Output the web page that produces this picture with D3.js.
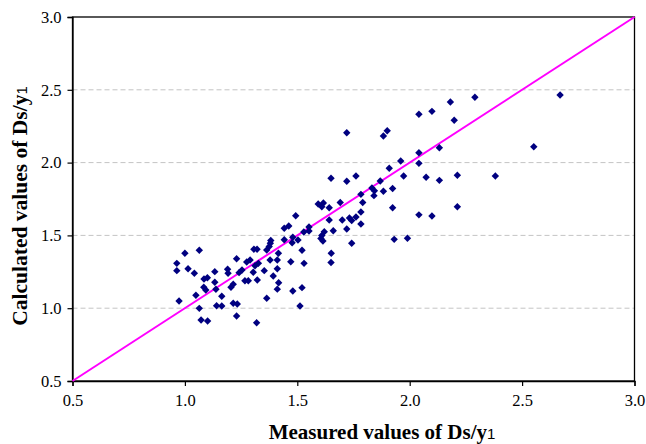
<!DOCTYPE html>
<html>
<head>
<meta charset="utf-8">
<script src="https://cdn.jsdelivr.net/npm/d3@7"></script>
<style>
  html, body { margin: 0; padding: 0; background: #fff; }
  svg { display: block; }
</style>
</head>
<body>
<svg id="chart" width="646" height="444"></svg>
<script>
// Measured values of Ds/y1 (x) and calculated values (y)
const measured = [
  0.964, 0.964, 0.974, 1.000, 1.014, 1.042, 1.049, 1.064, 1.064, 1.072,
  1.101, 1.085, 1.100, 1.084, 1.093, 1.133, 1.133, 1.138, 1.141, 1.164,
  1.164, 1.190, 1.192, 1.230, 1.215, 1.205, 1.215, 1.233, 1.230, 1.241,
  1.254, 1.267, 1.282, 1.275, 1.290, 1.304, 1.312, 1.321, 1.307, 1.327,
  1.322, 1.353, 1.319, 1.364, 1.364, 1.375, 1.382, 1.380, 1.379, 1.393,
  1.411, 1.411, 1.416, 1.417, 1.411, 1.442, 1.462, 1.442, 1.480, 1.477,
  1.503, 1.493, 1.521, 1.529, 1.552, 1.552, 1.471, 1.530, 1.480, 1.521,
  1.512, 1.593, 1.616, 1.609, 1.642, 1.642, 1.691, 1.700, 1.732, 1.742,
  1.761, 1.783, 1.783, 1.720, 1.660, 1.620, 1.609, 1.605, 1.614, 1.742,
  1.651, 1.650, 1.650, 1.720, 1.761, 1.783, 1.791, 1.832, 1.843, 1.841,
  1.869, 1.883, 1.909, 1.924, 1.924, 1.960, 1.973, 1.931, 1.990, 1.720,
  1.883, 1.900, 2.041, 2.041, 2.073, 2.041, 2.099, 2.041, 2.099, 2.181,
  2.290, 2.198, 2.132, 2.132, 2.212, 2.381, 2.212, 2.552, 2.669
];
const calculated = [
  1.308, 1.258, 1.049, 1.377, 1.271, 1.240, 1.089, 1.398, 0.999, 0.919,
  0.912, 1.201, 1.209, 1.144, 1.125, 1.251, 1.178, 1.130, 1.017, 1.015,
  1.082, 1.267, 1.240, 1.340, 1.164, 1.144, 1.034, 1.029, 0.946, 1.244,
  1.262, 1.189, 1.189, 1.317, 1.331, 1.247, 1.292, 1.405, 1.405, 1.308,
  1.194, 1.258, 0.900, 1.068, 1.400, 1.424, 1.465, 1.446, 1.331, 1.221,
  1.331, 1.271, 1.377, 1.175, 1.131, 1.549, 1.565, 1.470, 1.487, 1.450,
  1.468, 1.635, 1.398, 1.523, 1.558, 1.530, 1.319, 1.308, 1.118, 1.141,
  1.015, 1.716, 1.723, 1.697, 1.690, 1.606, 1.726, 1.606, 1.620, 1.602,
  1.626, 1.661, 1.578, 1.544, 1.532, 1.525, 1.499, 1.479, 1.462, 1.446,
  1.377, 1.314, 1.892, 1.872, 1.908, 1.782, 1.726, 1.826, 1.807, 1.773,
  1.874, 1.803, 1.961, 1.822, 1.690, 2.011, 1.908, 1.473, 1.480, 2.205,
  2.183, 2.219, 2.068, 1.995, 1.899, 1.641, 1.633, 2.332, 2.352, 2.416,
  2.449, 2.291, 2.102, 1.878, 1.913, 1.908, 1.697, 2.109, 2.464
];
const xTicks = [0.5, 1.0, 1.5, 2.0, 2.5, 3.0];
const yTicks = [0.5, 1.0, 1.5, 2.0, 2.5, 3.0];
const gridValues = [1.0, 1.5, 2.0, 2.5];
const lineEnds = [0.5, 3.0];
const xTitle = "Measured values of Ds/y";
const yTitle = "Calculated values of Ds/y";
const subscript = "1";

(function () {
const points = measured.map((m, i) => ({ x: m, y: calculated[i] }));

const svg = d3.select("#chart");
const pLeft = 72.5, pRight = 634.5, pTop = 17, pBottom = 381;

const x = d3.scaleLinear().domain([0.5, 3.0]).range([pLeft, pRight]);
const y = d3.scaleLinear().domain([0.5, 3.0]).range([pBottom, pTop]);

// gridlines
svg.append("g")
  .selectAll("line")
  .data(gridValues)
  .join("line")
  .attr("x1", pLeft).attr("x2", pRight)
  .attr("y1", d => y(d)).attr("y2", d => y(d))
  .attr("stroke", "#c4c4c4")
  .attr("stroke-width", 1)
  .attr("stroke-dasharray", "5,3");

// plot border
svg.append("rect")
  .attr("x", pLeft).attr("y", pTop)
  .attr("width", pRight - pLeft).attr("height", pBottom - pTop)
  .attr("fill", "none")
  .attr("stroke", "#000")
  .attr("stroke-width", 1.3);

// axes
const fmt = d3.format(".1f");
const xAxis = svg.append("g")
  .attr("transform", `translate(0,${pBottom})`)
  .call(d3.axisBottom(x).tickValues(xTicks).tickFormat(fmt).tickSize(5).tickPadding(8));
const yAxis = svg.append("g")
  .attr("transform", `translate(${pLeft},0)`)
  .call(d3.axisLeft(y).tickValues(yTicks).tickFormat(fmt).tickSize(5).tickPadding(6));

[xAxis, yAxis].forEach(g => {
  g.select(".domain").attr("stroke", "#000").attr("stroke-width", 1.3);
  g.selectAll(".tick line").attr("stroke", "#000").attr("stroke-width", 1.2);
  g.selectAll(".tick text")
    .attr("font-family", "'Liberation Serif', 'Times New Roman', serif")
    .attr("font-size", 16.5)
    .attr("fill", "#000");
});

// 1:1 line
svg.append("line")
  .attr("x1", x(lineEnds[0])).attr("y1", y(lineEnds[0]))
  .attr("x2", x(lineEnds[1])).attr("y2", y(lineEnds[1]))
  .attr("stroke", "#ff00ff")
  .attr("stroke-width", 2);

// points (diamonds)
const r = 3.7;
svg.append("g")
  .selectAll("path")
  .data(points)
  .join("path")
  .attr("d", `M0,${-r}L${r},0L0,${r}L${-r},0Z`)
  .attr("transform", d => `translate(${x(d.x)},${y(d.y)})`)
  .attr("fill", "#000080");

// axis titles
const xt = svg.append("text")
  .attr("x", 382)
  .attr("y", 439)
  .attr("text-anchor", "middle")
  .attr("font-family", "'Liberation Serif', 'Times New Roman', serif")
  .attr("font-weight", "bold")
  .attr("font-size", 21)
  .attr("fill", "#000")
  .text(xTitle);
xt.append("tspan").attr("font-size", 15).attr("font-weight", "normal")
  .attr("font-family", "'Liberation Sans', Arial, sans-serif").text(subscript);

const yt = svg.append("text")
  .attr("transform", `translate(27,206) rotate(-90)`)
  .attr("text-anchor", "middle")
  .attr("font-family", "'Liberation Serif', 'Times New Roman', serif")
  .attr("font-weight", "bold")
  .attr("font-size", 21.5)
  .attr("fill", "#000")
  .text(yTitle);
yt.append("tspan").attr("font-size", 15).attr("font-weight", "normal")
  .attr("font-family", "'Liberation Sans', Arial, sans-serif").text(subscript);
})();
</script>
</body>
</html>
